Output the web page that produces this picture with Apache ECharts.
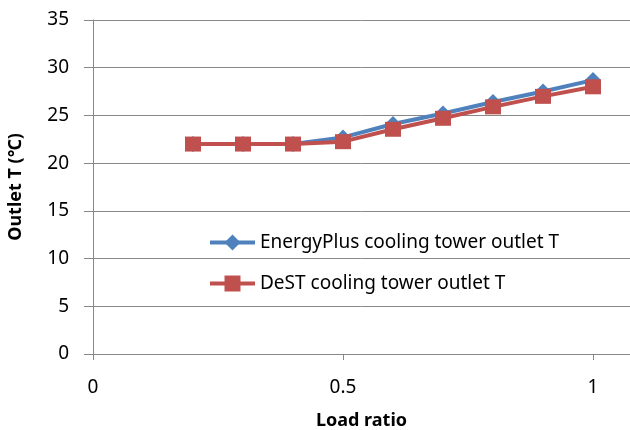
<!DOCTYPE html>
<html>
<head>
<meta charset="utf-8">
<script src="https://cdn.jsdelivr.net/npm/echarts@6/dist/echarts.min.js"></script>
<style>
  html, body { margin: 0; padding: 0; background: #fff; }
  #chart { width: 630px; height: 430px; }
</style>
</head>
<body>
<div id="chart"></div>
<script>
// load ratio on x, outlet temperature on y
var loadRatio = [0.2, 0.3, 0.4, 0.5, 0.6, 0.7, 0.8, 0.9, 1.0];
var energyPlusT = [22, 22, 22, 22.7, 24.1, 25.2, 26.4, 27.5, 28.7];
var destT = [22, 22, 22, 22.25, 23.55, 24.7, 25.9, 27.0, 28];
var xTicks = [0, 0.5, 1];
var yTicks = [0, 5, 10, 15, 20, 25, 30, 35];

function pairs(ys) {
  return loadRatio.map(function (x, i) { return [x, ys[i]]; });
}

var chart = echarts.init(document.getElementById('chart'));
var font = 'Noto Sans';
var option = {
  animation: false,
  grid: { left: 93, right: 0, top: 20, bottom: 76, outerBoundsMode: 'none', containLabel: false },
  legend: {
    orient: 'vertical',
    left: 203,
    top: 228,
    itemWidth: 45,
    itemHeight: 20,
    itemGap: 22,
    lineStyle: { width: 4 },
    textStyle: { fontFamily: font, fontSize: 19, color: '#000' },
    data: ['EnergyPlus cooling tower outlet T', 'DeST cooling tower outlet T']
  },
  xAxis: {
    type: 'value',
    min: 0,
    max: 1.074,
    interval: 0.5,
    name: 'Load ratio',
    nameLocation: 'middle',
    nameGap: 58,
    nameTextStyle: { fontFamily: font, fontSize: 18, fontWeight: 'bold', color: '#000' },
    axisLine: { show: true, lineStyle: { color: '#888', width: 1 } },
    axisTick: { show: true, length: 6, lineStyle: { color: '#888' } },
    axisLabel: {
      fontFamily: font, fontSize: 19, color: '#000', margin: 24,
      formatter: function (v) { return xTicks.indexOf(v) >= 0 ? String(v) : ''; }
    },
    splitLine: { show: false }
  },
  yAxis: {
    type: 'value',
    min: 0,
    max: 35,
    interval: 5,
    name: 'Outlet T (\u2103)',
    nameLocation: 'middle',
    nameGap: 68,
    nameTextStyle: { fontFamily: font, fontSize: 18, fontWeight: 'bold', color: '#000' },
    axisLine: { show: true, lineStyle: { color: '#888', width: 1 } },
    axisTick: { show: true, length: 9, lineStyle: { color: '#888' } },
    axisLabel: {
      fontFamily: font, fontSize: 19, color: '#000', margin: 24,
      formatter: function (v) { return yTicks.indexOf(v) >= 0 ? String(v) : ''; }
    },
    splitLine: { show: true, lineStyle: { color: '#888', width: 1 } }
  },
  series: [
    {
      name: 'EnergyPlus cooling tower outlet T',
      type: 'line',
      data: pairs(energyPlusT),
      symbol: 'diamond',
      symbolSize: [16, 16],
      color: '#4F81BD',
      lineStyle: { width: 4, color: '#4F81BD' },
      itemStyle: { color: '#4F81BD' }
    },
    {
      name: 'DeST cooling tower outlet T',
      type: 'line',
      data: pairs(destT),
      symbol: 'rect',
      symbolSize: [16, 15],
      color: '#C0504D',
      lineStyle: { width: 4, color: '#C0504D' },
      itemStyle: { color: '#C0504D' }
    }
  ]
};
chart.setOption(option);
</script>
</body>
</html>
